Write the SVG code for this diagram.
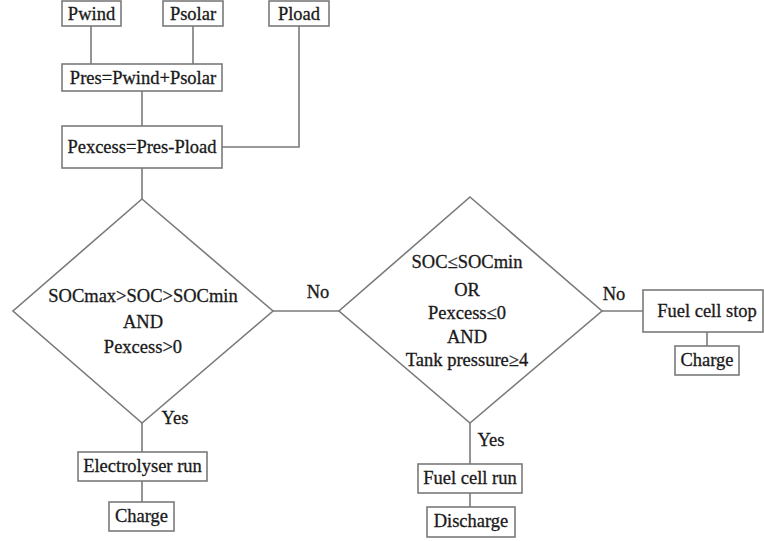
<svg xmlns="http://www.w3.org/2000/svg" width="764" height="541" viewBox="0 0 764 541">
  <style>
    .box { fill: #ffffff; stroke: #7a7a7a; stroke-width: 1.6; }
    .link { fill: none; stroke: #7a7a7a; stroke-width: 1.6; }
    text { font-family: 'Liberation Serif', 'Times New Roman', 'DejaVu Serif', serif; font-size: 18.5px; fill: #1a1a1a; stroke: #1a1a1a; stroke-width: 0.3; text-anchor: middle; dominant-baseline: central; }
  </style>
  <rect width="764" height="541" fill="#ffffff"/>

  <g id="connectors">
    <line class="link" x1="91" y1="26" x2="91" y2="64"/>
    <line class="link" x1="193" y1="26" x2="193" y2="64"/>
    <polyline class="link" points="299,26 299,147 222,147"/>
    <line class="link" x1="142" y1="91" x2="142" y2="126"/>
    <line class="link" x1="142" y1="168" x2="142" y2="199"/>
    <line class="link" x1="273" y1="311" x2="339" y2="311"/>
    <line class="link" x1="602" y1="311" x2="643" y2="311"/>
    <line class="link" x1="707" y1="332" x2="707" y2="346"/>
    <line class="link" x1="142" y1="423" x2="142" y2="452"/>
    <line class="link" x1="142" y1="481" x2="142" y2="502"/>
    <line class="link" x1="470" y1="423" x2="470" y2="464"/>
    <line class="link" x1="470" y1="493" x2="470" y2="507"/>
    <text x="318" y="292">No</text>
    <text x="614" y="294">No</text>
    <text x="175" y="418">Yes</text>
    <text x="491" y="440">Yes</text>
  </g>

  <g id="pwind">
    <rect class="box" x="62" y="1" width="59" height="25"/>
    <text x="91.5" y="14">Pwind</text>
  </g>
  <g id="psolar">
    <rect class="box" x="163" y="1" width="60" height="25"/>
    <text x="193" y="14">Psolar</text>
  </g>
  <g id="pload">
    <rect class="box" x="269" y="1" width="60" height="25"/>
    <text x="299" y="14">Pload</text>
  </g>
  <g id="pres">
    <rect class="box" x="62" y="64" width="160" height="27"/>
    <text x="143" y="78">Pres=Pwind+Psolar</text>
  </g>
  <g id="pexcess">
    <rect class="box" x="62" y="126" width="160" height="42"/>
    <text x="142" y="147">Pexcess=Pres-Pload</text>
  </g>

  <g id="decision-charge">
    <polygon class="box" points="142,199 273,311 142,423 13,311"/>
    <text x="143" y="296">SOCmax&gt;SOC&gt;SOCmin</text>
    <text x="143" y="322">AND</text>
    <text x="143" y="347">Pexcess&gt;0</text>
  </g>

  <g id="decision-discharge">
    <polygon class="box" points="470,197 602,311 470,423 339,311"/>
    <text x="467" y="262">SOC≤SOCmin</text>
    <text x="467" y="290">OR</text>
    <text x="467" y="313">Pexcess≤0</text>
    <text x="467" y="337">AND</text>
    <text x="467" y="360">Tank pressure≥4</text>
  </g>

  <g id="fuel-cell-stop">
    <rect class="box" x="643" y="290" width="120" height="42"/>
    <text x="707" y="311">Fuel cell stop</text>
  </g>
  <g id="charge-stop">
    <rect class="box" x="675" y="346" width="64" height="29"/>
    <text x="707" y="360">Charge</text>
  </g>

  <g id="electrolyser-run">
    <rect class="box" x="78" y="452" width="129" height="29"/>
    <text x="142.5" y="466">Electrolyser run</text>
  </g>
  <g id="charge-run">
    <rect class="box" x="109" y="502" width="65" height="29"/>
    <text x="141.5" y="516">Charge</text>
  </g>

  <g id="fuel-cell-run">
    <rect class="box" x="418" y="464" width="104" height="29"/>
    <text x="470" y="478">Fuel cell run</text>
  </g>
  <g id="discharge">
    <rect class="box" x="427" y="507" width="88" height="30"/>
    <text x="471" y="521">Discharge</text>
  </g>
</svg>
